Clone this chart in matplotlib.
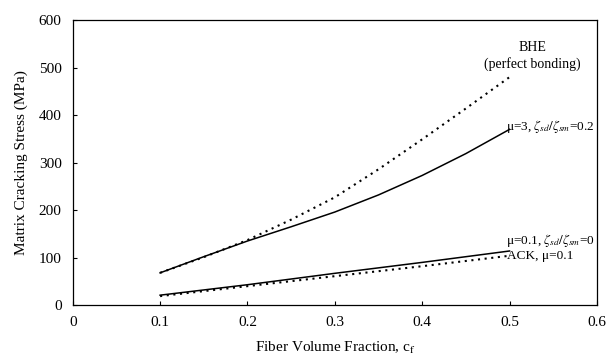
import matplotlib
matplotlib.use("Agg")
import matplotlib.pyplot as plt
import numpy as np

plt.rcParams['font.family'] = ['Liberation Serif', 'DejaVu Serif']
plt.rcParams['mathtext.fontset'] = 'stix'

cf_upper = [0.1, 0.15, 0.2, 0.25, 0.3, 0.35, 0.4, 0.45, 0.5]
bhe = [68, 101, 137, 180, 227, 286, 349, 414, 480]
mu3 = [68, 102, 135, 165, 196, 232, 273, 319, 370]
cf_lower = [0.1, 0.2, 0.3, 0.4, 0.5]
mu01 = [21, 43, 67, 90, 114]
ack = [19, 40, 61, 82, 104]

fig = plt.figure(figsize=(6.06, 3.59), dpi=100)
ax = fig.add_axes([0.120, 0.150, 0.865, 0.794])

dot = (0, (1.0, 2.2))
ax.plot(cf_upper, bhe, color='black', lw=1.5, linestyle=dot)
ax.plot(cf_upper, mu3, color='black', lw=1.1)
ax.plot(cf_lower, mu01, color='black', lw=1.1)
ax.plot(cf_lower, ack, color='black', lw=1.5, linestyle=dot)

ax.set_xlim(0, 0.6)
ax.set_ylim(0, 600)
ax.set_xticks([0, 0.1, 0.2, 0.3, 0.4, 0.5, 0.6])
ax.set_xticklabels(['0', '0.1', '0.2', '0.3', '0.4', '0.5', '0.6'])
ax.set_yticks([0, 100, 200, 300, 400, 500, 600])
ax.tick_params(direction='in', length=3, width=0.8, labelsize=11, pad=8)
for s in ax.spines.values():
    s.set_linewidth(0.9)

ax.set_xlabel('Fiber Volume Fraction, c$_\\mathrm{f}$', fontsize=11, labelpad=8)
ax.set_ylabel('Matrix Cracking Stress (MPa)', fontsize=11, labelpad=8)

ax.text(0.526, 542, 'BHE', ha='center', va='center', fontsize=10)
ax.text(0.526, 508, '(perfect bonding)', ha='center', va='center', fontsize=10)
ax.text(0.496, 375, 'μ=3, $\\zeta_{sd}/\\zeta_{sm}$=0.2', ha='left', va='center', fontsize=9.5)
ax.text(0.496, 136, 'μ=0.1, $\\zeta_{sd}/\\zeta_{sm}$=0', ha='left', va='center', fontsize=9.5)
ax.text(0.497, 104, 'ACK, μ=0.1', ha='left', va='center', fontsize=9.5)

fig.savefig('out.png', dpi=100)
